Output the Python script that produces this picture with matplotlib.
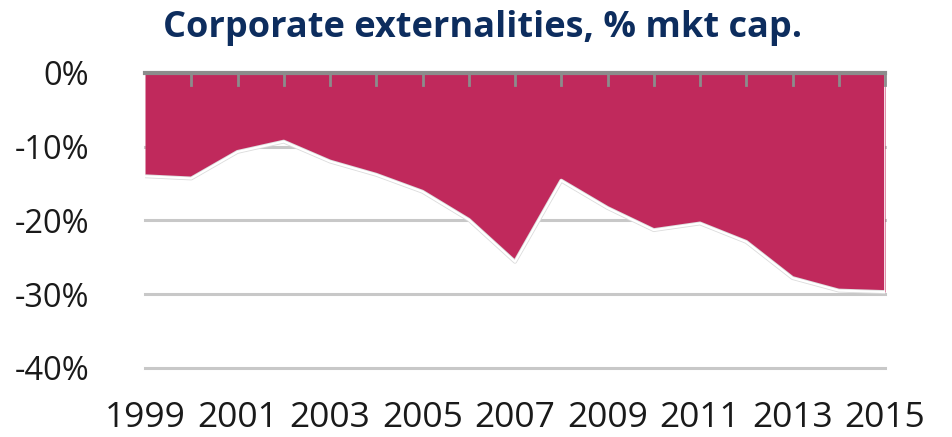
import matplotlib
matplotlib.use("Agg")
import matplotlib.pyplot as plt
import matplotlib.patheffects as pe
import numpy as np

# corporate externalities as % of market cap
years = list(range(1999, 2016))
values = [-14.0, -14.3, -10.7, -9.3, -12.0, -13.8, -16.1, -19.9, -25.6,
          -14.6, -18.3, -21.3, -20.4, -22.9, -27.8, -29.5, -29.7]
yticks = [0, -10, -20, -30, -40]
xlabels = [str(y) for y in years[::2]]

plt.rcParams['font.family'] = ['Open Sans', 'DejaVu Sans']

fig = plt.figure(figsize=(9.53, 4.37), dpi=100)
ax = fig.add_axes([145/953, 1-368/437, 740/953, 295/437])

for t in yticks[1:]:
    ax.axhline(t, color='#c8c8c8', lw=2.2, zorder=1, clip_on=False)

ax.fill_between(years, 0, values, color='#c0295c', lw=0, zorder=2)
ax.plot(years, values, color='white', lw=1.6, zorder=3,
        path_effects=[pe.withStroke(linewidth=2.8, foreground='#dcdcdc')])
ax.plot([years[-1], years[-1]], [0, values[-1]], color='white', lw=1.2, zorder=3)
ax.axhline(0, color='#8c8c8c', lw=3, zorder=4, clip_on=False)

ax.set_xlim(years[0], years[-1])
ax.set_ylim(-40, 0)
ax.set_yticks(yticks)
ax.set_yticklabels([f'{t}%' for t in yticks])
ax.set_xticks(years[::2])
ax.set_xticklabels(xlabels)
ax.tick_params(axis='both', length=0, colors='#1a1a1a')
ax.tick_params(axis='y', pad=40, labelsize=23.5)
ax.tick_params(axis='x', pad=24, labelsize=25.5)

# small ticks hanging from the zero line, one per year
for y in years[1:]:
    ax.plot([y, y], [0, -1.6], color='#8c8c8c', lw=2, zorder=4, clip_on=False)

for s in ax.spines.values():
    s.set_visible(False)

fig.text(0.506, 0.937, 'Corporate externalities, % mkt cap.', ha='center', va='center',
         fontsize=26, fontweight='bold', color='#0d2d5e')

fig.savefig('out.png', dpi=100)
